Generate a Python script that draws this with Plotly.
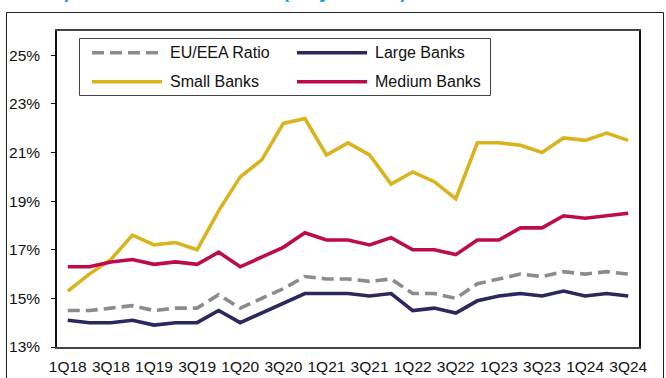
import plotly.graph_objects as go

quarters = [f"{q}Q{y}" for y in range(18, 25) for q in range(1, 5)][:27]

eu_eea = [14.5, 14.5, 14.6, 14.7, 14.5, 14.6, 14.6, 15.15, 14.6, 15.0, 15.4, 15.9, 15.8, 15.8, 15.7, 15.8,
          15.2, 15.2, 15.0, 15.6, 15.8, 16.0, 15.9, 16.1, 16.0, 16.1, 16.0]
large = [14.1, 14.0, 14.0, 14.1, 13.9, 14.0, 14.0, 14.5, 14.0, 14.4, 14.8, 15.2, 15.2, 15.2, 15.1, 15.2,
         14.5, 14.6, 14.4, 14.9, 15.1, 15.2, 15.1, 15.3, 15.1, 15.2, 15.1]
small = [15.3, 16.0, 16.6, 17.6, 17.2, 17.3, 17.0, 18.6, 20.0, 20.7, 22.2, 22.4, 20.9, 21.4, 20.9, 19.7,
         20.2, 19.8, 19.1, 21.4, 21.4, 21.3, 21.0, 21.6, 21.5, 21.8, 21.5]
medium = [16.3, 16.3, 16.5, 16.6, 16.4, 16.5, 16.4, 16.9, 16.3, 16.7, 17.1, 17.7, 17.4, 17.4, 17.2, 17.5,
          17.0, 17.0, 16.8, 17.4, 17.4, 17.9, 17.9, 18.4, 18.3, 18.4, 18.5]

names = ["EU/EEA Ratio", "Large Banks", "Small Banks", "Medium Banks"]
colors = ["#8c8c8c", "#2b285e", "#d9b41f", "#bd0d48"]
dashes = ["12px,6px", "solid", "solid", "solid"]
series = [eu_eea, large, small, medium]

y_ticks = [13, 15, 17, 19, 21, 23, 25]
x_ticks = quarters[::2]

FONT = "Arial, Liberation Sans, sans-serif"
W, H = 666, 378
L, R, T, B = 57, 27, 31, 31
PW, PH = W - L - R, H - T - B


def px(x):
    return (x - L) / PW


def py(y):
    return (H - B - y) / PH


fig = go.Figure()
for idx in [2, 3, 0, 1]:
    fig.add_trace(go.Scatter(
        x=quarters, y=series[idx], mode="lines", name=names[idx],
        line=dict(color=colors[idx], width=3.6, dash=dashes[idx]),
        showlegend=False, hoverinfo="skip",
    ))

shapes = []
annotations = []
shapes.append(dict(type="rect", xref="paper", yref="paper",
                   x0=px(6.5), x1=px(663.5), y0=py(400), y1=py(12.5),
                   line=dict(color="#222222", width=1), layer="below"))
shapes.append(dict(type="rect", xref="paper", yref="paper",
                   x0=px(79.5), x1=px(490.5), y0=py(95.5), y1=py(38.5),
                   line=dict(color="#444444", width=1), fillcolor="white", layer="above"))
legend_pos = [(92, 52.7), (297, 52.7), (92, 81.7), (297, 81.7)]
for i, (lx, ly) in enumerate(legend_pos):
    shapes.append(dict(type="line", xref="paper", yref="paper",
                       x0=px(lx), x1=px(lx + 70), y0=py(ly), y1=py(ly),
                       line=dict(color=colors[i], width=3.6, dash=dashes[i]), layer="above"))
    annotations.append(dict(xref="paper", yref="paper", x=px(lx + 76), y=py(ly),
                            xanchor="left", yanchor="middle", showarrow=False,
                            text=names[i], font=dict(family=FONT, size=16, color="#111111")))

# title (cut off at the top edge in the reference; only descenders visible)
annotations.append(dict(xref="paper", yref="paper", x=px(36), y=py(4.5),
                        xanchor="left", yanchor="bottom", showarrow=False,
                        text="<b>Capital ratios: CET1 ratio (fully loaded)</b>",
                        font=dict(family=FONT, size=20, color="#1aa0e6")))

fig.update_layout(
    width=W, height=H,
    margin=dict(l=L, r=R, t=T, b=B, pad=0),
    paper_bgcolor="white", plot_bgcolor="white",
    font=dict(family=FONT, size=15.5, color="#111111"),
    showlegend=False,
    shapes=shapes, annotations=annotations,
    xaxis=dict(
        type="category", range=[-0.5, 26.5], automargin=False,
        tickmode="array", tickvals=x_ticks, ticktext=x_ticks,
        showgrid=False, zeroline=False, ticks="",
        showline=True, linecolor="#444444", linewidth=2, mirror=True,
        ticklabelstandoff=4,
    ),
    yaxis=dict(
        range=[13, 26], tickmode="array", tickvals=y_ticks, automargin=False,
        ticktext=[f"{v}%" for v in y_ticks],
        showgrid=False, zeroline=False,
        ticks="outside", ticklen=4, tickcolor="#111111", tickwidth=1,
        showline=True, linecolor="#111111", linewidth=1.5, mirror=True,
        ticklabelstandoff=8,
    ),
)

fig.write_html("out.html")
